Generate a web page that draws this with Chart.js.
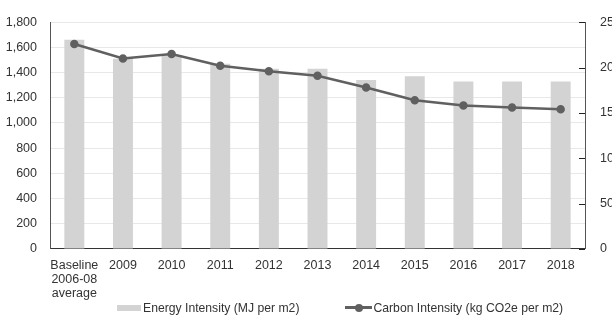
<!DOCTYPE html>
<html>
<head>
<meta charset="utf-8">
<script src="https://cdn.jsdelivr.net/npm/chart.js@4.4.0/dist/chart.umd.min.js"></script>
<style>
  html, body { margin: 0; padding: 0; background: #fff; overflow: hidden; }
  .wrap { position: relative; width: 612px; height: 318px; }
  .legend { position: absolute; top: 300px; left: 117px; font: 12.2px "Liberation Sans", Arial, sans-serif; color: #333; white-space: nowrap; }
  .legend span { display: inline-block; vertical-align: middle; }
  .sw-bar { width: 24px; height: 6px; background: #d3d3d3; margin-right: 2px; }
  .sw-line { position: relative; width: 27px; height: 3px; background: #606060; margin: 0 1px 0 46px; }
  .sw-line::after { content: ""; position: absolute; left: 10px; top: -2.5px; width: 8px; height: 8px; border-radius: 50%; background: #606060; }
</style>
</head>
<body>
<div class="wrap">
  <canvas id="myChart" width="612" height="318"></canvas>
  <div class="legend">
    <span class="sw-bar"></span><span>Energy Intensity (MJ per m2)</span><span class="sw-line"></span><span>Carbon Intensity (kg CO2e per m2)</span>
  </div>
</div>
<script>
const categories = [["Baseline", "2006-08", "average"], "2009", "2010", "2011", "2012", "2013", "2014", "2015", "2016", "2017", "2018"];
const energyIntensity = [1660, 1510, 1540, 1470, 1430, 1430, 1340, 1370, 1330, 1330, 1330];
const carbonIntensity = [226, 210, 215, 202, 196, 191, 178, 164, 158, 156, 154];
const leftTicks = [0, 1800, 200];
const rightTicks = [0, 250, 50];

const fontSpec = { family: "'Liberation Sans', Arial, sans-serif", size: 12.5, lineHeight: 1.15 };

// short tick marks on the right axis, pointing into the plot
const innerTicks = {
    id: 'innerTicks',
    afterDraw(chart) {
        const scale = chart.scales.y1;
        const c = chart.ctx;
        c.save();
        c.strokeStyle = '#222';
        c.lineWidth = 1;
        scale.ticks.forEach((t) => {
            const y = Math.round(scale.getPixelForValue(t.value)) + 0.5;
            c.beginPath();
            c.moveTo(scale.left - 6, y);
            c.lineTo(scale.left, y);
            c.stroke();
        });
        c.restore();
    }
};

const ctx = document.getElementById('myChart').getContext('2d');
const myChart = new Chart(ctx, {
    data: {
        labels: categories,
        datasets: [
            {
                type: 'line',
                label: 'Carbon Intensity (kg CO2e per m2)',
                data: carbonIntensity,
                yAxisID: 'y1',
                borderColor: '#606060',
                backgroundColor: '#606060',
                borderWidth: 2.5,
                pointRadius: 3,
                pointHoverRadius: 3,
                tension: 0,
                order: 0
            },
            {
                type: 'bar',
                label: 'Energy Intensity (MJ per m2)',
                data: energyIntensity,
                yAxisID: 'y',
                backgroundColor: '#d3d3d3',
                barPercentage: 0.41,
                categoryPercentage: 1,
                order: 1
            }
        ]
    },
    options: {
        responsive: false,
        animation: false,
        layout: { padding: { top: 2, bottom: 8, left: 0, right: 0 } },
        plugins: { legend: { display: false }, tooltip: { enabled: false } },
        scales: {
            x: {
                grid: { display: false, drawTicks: false },
                border: { color: '#333', width: 1 },
                ticks: { color: '#333', font: fontSpec, padding: 9, maxRotation: 0, autoSkip: false }
            },
            y: {
                position: 'left',
                min: leftTicks[0],
                max: leftTicks[1],
                ticks: {
                    stepSize: leftTicks[2], color: '#333', font: fontSpec, padding: 13,
                    callback: (v) => v.toLocaleString('en-US')
                },
                grid: { color: '#e8e8e8', drawTicks: false },
                border: { color: '#555', width: 1 },
                afterFit: (scale) => { scale.width = 50; }
            },
            y1: {
                position: 'right',
                min: rightTicks[0],
                max: rightTicks[1],
                ticks: { stepSize: rightTicks[2], color: '#333', font: fontSpec, padding: 15 },
                grid: { drawOnChartArea: false, drawTicks: false },
                border: { color: '#555', width: 1 },
                afterFit: (scale) => { scale.width = 27; }
            }
        }
    },
    plugins: [innerTicks]
});
</script>
</body>
</html>
